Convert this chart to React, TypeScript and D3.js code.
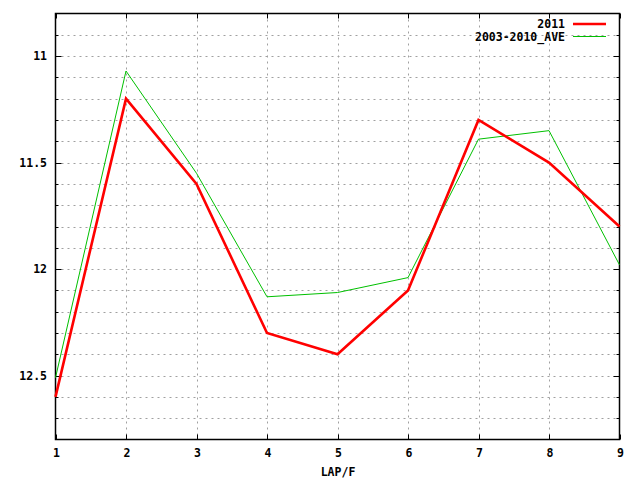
import React, { useEffect, useRef } from 'react';
import * as d3 from 'd3';

const laps = [1, 2, 3, 4, 5, 6, 7, 8, 9];
const values2011 = [12.6, 11.2, 11.6, 12.3, 12.4, 12.1, 11.3, 11.5, 11.8];
const valuesAve = [12.51, 11.07, 11.55, 12.13, 12.11, 12.04, 11.39, 11.35, 11.98];
const yTickLabels = [11, 11.5, 12, 12.5];
const seriesNames = ['2011', '2003-2010_AVE'];

const W = 640;
const H = 480;
const FONT = '"DejaVu Sans Mono", monospace';

const App: React.FC = () => {
  const svgRef = useRef<SVGSVGElement>(null);

  useEffect(() => {
    if (!svgRef.current) return;
    const svg = d3.select(svgRef.current);
    svg.selectAll('*').remove();

    const left = 55.5, right = 619.5, top = 13.5, bottom = 439.5;

    const x = d3.scaleLinear().domain([1, 9]).range([left, right]);
    // inverted: small times on top
    const y = d3.scaleLinear().domain([10.8, 12.8]).range([top, bottom]);

    const minorY = d3.range(10.9, 12.75, 0.1).map(v => +v.toFixed(1));

    // grid
    const grid = svg.append('g')
      .attr('stroke', '#a0a0a0')
      .attr('stroke-width', 1)
      .attr('stroke-dasharray', '2,4');
    grid.selectAll('line.gy')
      .data(minorY)
      .enter()
      .append('line')
      .attr('x1', left)
      .attr('x2', right)
      .attr('y1', d => Math.round(y(d)) + 0.5)
      .attr('y2', d => Math.round(y(d)) + 0.5);
    grid.selectAll('line.gx')
      .data(laps.slice(1, -1))
      .enter()
      .append('line')
      .attr('x1', d => Math.round(x(d)) + 0.5)
      .attr('x2', d => Math.round(x(d)) + 0.5)
      .attr('y1', top)
      .attr('y2', bottom);

    // ticks (inward, mirrored)
    const ticks = svg.append('g').attr('stroke', '#000').attr('stroke-width', 1);
    minorY.forEach(v => {
      const yy = Math.round(y(v)) + 0.5;
      const major = yTickLabels.includes(v);
      const len = major ? 6 : 3;
      ticks.append('line').attr('x1', left).attr('x2', left + len).attr('y1', yy).attr('y2', yy);
      ticks.append('line').attr('x1', right).attr('x2', right - len).attr('y1', yy).attr('y2', yy);
    });
    laps.forEach(v => {
      const xx = Math.round(x(v)) + 0.5;
      ticks.append('line').attr('x1', xx).attr('x2', xx).attr('y1', bottom).attr('y2', bottom - 5);
      ticks.append('line').attr('x1', xx).attr('x2', xx).attr('y1', top).attr('y2', top + 5);
    });

    // frame
    svg.append('rect')
      .attr('x', left)
      .attr('y', top)
      .attr('width', right - left)
      .attr('height', bottom - top)
      .attr('fill', 'none')
      .attr('stroke', '#000')
      .attr('stroke-width', 1.5);

    // tick labels
    svg.append('g')
      .selectAll('text')
      .data(yTickLabels)
      .enter()
      .append('text')
      .attr('x', 47)
      .attr('y', d => y(d) + 4)
      .attr('text-anchor', 'end')
      .attr('font-family', FONT)
      .attr('font-size', 11.5)
      .attr('font-weight', 'bold')
      .text(d => String(d));

    svg.append('g')
      .selectAll('text')
      .data(laps)
      .enter()
      .append('text')
      .attr('x', d => x(d) + 1)
      .attr('y', 457)
      .attr('text-anchor', 'middle')
      .attr('font-family', FONT)
      .attr('font-size', 11.5)
      .attr('font-weight', 'bold')
      .text(d => String(d));

    svg.append('text')
      .attr('x', 338)
      .attr('y', 476)
      .attr('text-anchor', 'middle')
      .attr('font-family', FONT)
      .attr('font-size', 11.5)
      .attr('font-weight', 'bold')
      .text('LAP/F');

    // lines
    const line = d3.line<number>()
      .x((_, i) => x(laps[i]))
      .y(d => y(d));

    svg.append('path')
      .attr('d', line(valuesAve) || '')
      .attr('fill', 'none')
      .attr('stroke', '#00c000')
      .attr('stroke-width', 1);

    svg.append('path')
      .attr('d', line(values2011) || '')
      .attr('fill', 'none')
      .attr('stroke', '#ff0000')
      .attr('stroke-width', 2.6);

    // legend
    const legend = [
      { name: seriesNames[0], color: '#ff0000', w: 2.6 },
      { name: seriesNames[1], color: '#00c000', w: 1 },
    ];
    legend.forEach((l, i) => {
      const ly = 24 + i * 12.5;
      svg.append('text')
        .attr('x', 565)
        .attr('y', ly + 4)
        .attr('text-anchor', 'end')
        .attr('font-family', FONT)
        .attr('font-size', 11.5)
        .attr('font-weight', 'bold')
        .text(l.name);
      svg.append('line')
        .attr('x1', 573)
        .attr('x2', 606)
        .attr('y1', ly)
        .attr('y2', ly)
        .attr('stroke', l.color)
        .attr('stroke-width', l.w);
    });
  }, []);

  return (
    <svg
      ref={svgRef}
      width={W}
      height={H}
      style={{ position: 'absolute', left: 0, top: 0, background: '#fff' }}
    />
  );
};

export default App;
